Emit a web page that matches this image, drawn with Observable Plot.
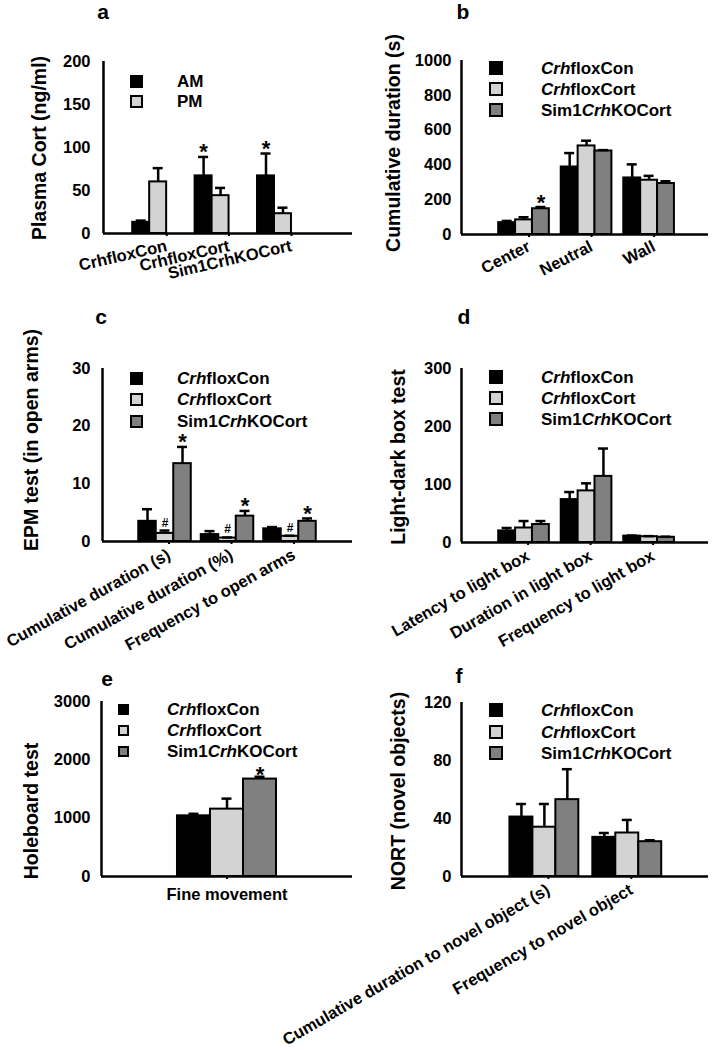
<!DOCTYPE html>
<html><head><meta charset="utf-8">
<script src="https://cdn.jsdelivr.net/npm/d3@7"></script>
<script src="https://cdn.jsdelivr.net/npm/@observablehq/plot@0.6"></script>
<style>
body{margin:0;background:#fff;}
#fig{position:relative;width:712px;height:1050px;font-family:Arial,"Liberation Sans",sans-serif;font-weight:bold;color:#000;overflow:hidden;}
.plt{position:absolute;}
.plt svg{overflow:visible;}
.plt g[aria-label="x-axis tick label"]{font-size:16.5px;}
.letter{position:absolute;font-size:21px;line-height:1;transform:translateX(-50%);}
.ytitle{position:absolute;font-size:19.5px;line-height:1;white-space:nowrap;transform:translate(-50%,-50%) rotate(-90deg);}
.sw{position:absolute;box-sizing:border-box;border:2px solid #000;}
.lt{position:absolute;font-size:17px;line-height:1;white-space:nowrap;transform:translateY(-50%);}
</style>
</head><body>
<div id="fig"></div>
<script>
const FONT = 'Arial, "Liberation Sans", sans-serif';

// ---------- data ----------
const groups = ["CrhfloxCon", "CrhfloxCort", "Sim1CrhKOCort"];
const groupColors = ["#000000", "#d3d3d3", "#808080"];

// a
const catsA = ["CrhfloxCon", "CrhfloxCort", "Sim1CrhKOCort"];
const seriesA = ["AM", "PM"];
const colorsA = ["#000000", "#d3d3d3"];
const meanA = [[13, 67, 67], [60, 44, 23]];
const errA = [[2, 22, 26], [16, 9, 7]];
const sigA = [["", "*", "*"], ["", "", ""]];
const ticksA = [0, 50, 100, 150, 200];

// b
const catsB = ["Center", "Neutral", "Wall"];
const meanB = [[68, 388, 325], [84, 509, 312], [148, 480, 293]];
const errB = [[10, 80, 78], [15, 30, 25], [10, 5, 13]];
const sigB = [["", "", ""], ["", "", ""], ["*", "", ""]];
const ticksB = [0, 200, 400, 600, 800, 1000];

// c
const catsC = ["Cumulative duration (s)", "Cumulative duration (%)", "Frequency to open arms"];
const meanC = [[3.5, 1.2, 2.2], [1.4, 0.6, 0.9], [13.5, 4.4, 3.5]];
const errC = [[2.1, 0.6, 0.3], [0.5, 0.1, 0.1], [2.9, 0.9, 0.5]];
const sigC = [["", "", ""], ["#", "#", "#"], ["*", "*", "*"]];
const ticksC = [0, 10, 20, 30];

// d
const catsD = ["Latency to light box", "Duration in light box", "Frequency to light box"];
const meanD = [[20, 74, 11], [25, 89, 10], [31, 114, 9]];
const errD = [[5, 13, 1], [12, 13, 1], [6, 48, 1]];
const ticksD = [0, 100, 200, 300];

// e
const catsE = ["Fine movement"];
const meanE = [[1040], [1155], [1670]];
const errE = [[35], [180], [40]];
const sigE = [[""], [""], ["*"]];
const ticksE = [0, 1000, 2000, 3000];

// f
const catsF = ["Cumulative duration to novel object (s)", "Frequency to novel object"];
const meanF = [[41, 27], [34, 30], [53, 24]];
const errF = [[9, 3], [16, 9], [21, 1]];
const ticksF = [0, 40, 80, 120];

// ---------- drawing ----------
const fig = document.getElementById("fig");

function panel(cfg) {
  const n = cfg.series.length;
  const rows = [];
  cfg.cats.forEach((c, i) => {
    cfg.series.forEach((s, j) => {
      const x1 = i + (j - n / 2) * cfg.barW;
      rows.push({i, j, series: s, x1, x2: x1 + cfg.barW, cx: x1 + cfg.barW / 2,
        v: cfg.means[j][i], top: cfg.means[j][i] + cfg.errs[j][i],
        sig: cfg.sig ? cfg.sig[j][i] : ""});
    });
  });
  const svgLeft = cfg.svgLeft;
  const svgRight = cfg.left + 356;
  const svgTop = cfg.yTop - 20;
  const svgH = cfg.yBot - svgTop + cfg.mb;
  const pxPerUnit = (cfg.axisR - cfg.axisL) / (cfg.xDomain[1] - cfg.xDomain[0]);
  const cap = 5 / pxPerUnit;
  const chart = Plot.plot({
    width: svgRight - svgLeft, height: svgH,
    marginLeft: cfg.axisL - svgLeft, marginRight: svgRight - cfg.axisR,
    marginTop: cfg.yTop - svgTop, marginBottom: cfg.mb,
    style: {fontFamily: FONT, fontWeight: "bold", fontSize: "16.5px", overflow: "visible", background: "transparent", color: "#000"},
    x: {domain: cfg.xDomain},
    y: {domain: [cfg.yTicks[0], cfg.yTicks[cfg.yTicks.length - 1]]},
    color: {domain: cfg.series, range: cfg.colors},
    marks: [
      Plot.rect(rows, {x1: "x1", x2: "x2", y1: () => 0, y2: "v", fill: "series", stroke: "#000", strokeWidth: 2}),
      Plot.ruleX(rows, {x: "cx", y1: "v", y2: "top", strokeWidth: 2.5}),
      Plot.ruleY(rows.filter(d => d.top > d.v), {y: "top", x1: d => d.cx - cap, x2: d => d.cx + cap, strokeWidth: 2.5}),
      Plot.text(rows.filter(d => d.sig === "*"), {x: "cx", y: "top", text: "sig", fontSize: 22, lineAnchor: "bottom", dy: cfg.starDy}),
      Plot.text(rows.filter(d => d.sig === "#"), {x: "cx", y: "top", text: "sig", fontSize: 12, lineAnchor: "bottom", dy: -4}),
      Plot.ruleY([0], {strokeWidth: 2.5}),
      Plot.ruleX([cfg.xDomain[0]], {strokeWidth: 2.5}),
      Plot.axisY({ticks: cfg.yTicks, tickFormat: d => String(d), tickSize: 0, tickPadding: cfg.tickPad, label: null}),
      Plot.axisX({ticks: d3.range(cfg.cats.length), tickFormat: i => cfg.cats[i], tickRotate: cfg.rotate,
        tickSize: 3, tickPadding: cfg.xPad, strokeWidth: 2, dx: cfg.dx, label: null})
    ]
  });
  const wrap = document.createElement("div");
  wrap.className = "plt";
  wrap.style.left = svgLeft + "px";
  wrap.style.top = svgTop + "px";
  wrap.appendChild(chart);
  fig.appendChild(wrap);

  // panel letter
  const L = document.createElement("div");
  L.className = "letter";
  L.textContent = cfg.letter[0];
  L.style.left = cfg.letter[1] + "px";
  L.style.top = (cfg.letter[2] - 17) + "px";
  fig.appendChild(L);

  // y title
  const T = document.createElement("div");
  T.className = "ytitle";
  T.textContent = cfg.yTitle[0];
  T.style.left = cfg.yTitle[1] + "px";
  T.style.top = cfg.yTitle[2] + "px";
  fig.appendChild(T);

  // legend
  cfg.series.forEach((s, j) => {
    const cy = cfg.legend.cy[j];
    const sw = document.createElement("div");
    sw.className = "sw";
    sw.style.left = cfg.legend.sx + "px";
    sw.style.top = (cy - cfg.legend.s / 2) + "px";
    sw.style.width = cfg.legend.s + "px";
    sw.style.height = cfg.legend.s + "px";
    sw.style.background = cfg.colors[j];
    fig.appendChild(sw);
    const t = document.createElement("div");
    t.className = "lt";
    t.style.left = cfg.legend.tx + "px";
    t.style.top = cy + "px";
    t.innerHTML = s.replace("Crh", "<i>Crh</i>");
    fig.appendChild(t);
  });
}

panel({left: 0, svgLeft: 0, mb: 60, axisL: 103, axisR: 352, yTop: 61, yBot: 233, xDomain: [-0.74, 3.25], barW: 0.272,
  cats: catsA, series: seriesA, colors: colorsA, means: meanA, errs: errA, sig: sigA, yTicks: ticksA,
  tickPad: 13, rotate: -13, dx: 17, xPad: 9, starDy: 2.5,
  letter: ["a", 103, 18], yTitle: ["Plasma Cort (ng/ml)", 40, 148],
  legend: {sx: 130, s: 13, tx: 177, cy: [81, 101]}});

panel({left: 356, svgLeft: 356, mb: 60, axisL: 461, axisR: 708, yTop: 60, yBot: 234, xDomain: [-1.0, 2.95], barW: 0.27,
  cats: catsB, series: groups, colors: groupColors, means: meanB, errs: errB, sig: sigB, yTicks: ticksB,
  tickPad: 10, rotate: -27, dx: 5, xPad: 8, starDy: 2.5,
  letter: ["b", 463, 18], yTitle: ["Cumulative duration (s)", 394, 143],
  legend: {sx: 489, s: 14, tx: 541, cy: [68, 89, 110]}});

panel({left: 0, svgLeft: 0, mb: 125, axisL: 102, axisR: 352, yTop: 368, yBot: 541, xDomain: [-1, 3.0], barW: 0.28,
  cats: catsC, series: groups, colors: groupColors, means: meanC, errs: errC, sig: sigC, yTicks: ticksC,
  tickPad: 12, rotate: -29, dx: 4, xPad: 9, starDy: 2.5,
  letter: ["c", 101, 323], yTitle: ["EPM test (in open arms)", 32, 440],
  legend: {sx: 130, s: 13, tx: 177, cy: [378, 399, 421]}});

panel({left: 356, svgLeft: 356, mb: 115, axisL: 461, axisR: 708, yTop: 368, yBot: 542, xDomain: [-1, 2.95], barW: 0.27,
  cats: catsD, series: groups, colors: groupColors, means: meanD, errs: errD, sig: null, yTicks: ticksD,
  tickPad: 10, rotate: -30, dx: 4, xPad: 9, starDy: 2.5,
  letter: ["d", 464, 323], yTitle: ["Light-dark box test", 399, 457],
  legend: {sx: 489, s: 14, tx: 541, cy: [377, 398, 419]}});

panel({left: 0, svgLeft: 0, mb: 40, axisL: 101, axisR: 352, yTop: 701, yBot: 876, xDomain: [-1, 1], barW: 0.263,
  cats: catsE, series: groups, colors: groupColors, means: meanE, errs: errE, sig: sigE, yTicks: ticksE,
  tickPad: 11, rotate: 0, dx: 0, xPad: 9, starDy: 5,
  letter: ["e", 107, 685], yTitle: ["Holeboard test", 32, 811],
  legend: {sx: 118, s: 11, tx: 167, cy: [709, 730, 751]}});

panel({left: 356, svgLeft: 270, mb: 155, axisL: 461, axisR: 708, yTop: 702, yBot: 876, xDomain: [-1, 1.98], barW: 0.277,
  cats: catsF, series: groups, colors: groupColors, means: meanF, errs: errF, sig: null, yTicks: ticksF,
  tickPad: 10, rotate: -30, dx: 4, xPad: 9, starDy: 2.5,
  letter: ["f", 459, 682], yTitle: ["NORT (novel objects)", 399, 791],
  legend: {sx: 489, s: 14, tx: 541, cy: [710, 732, 753]}});
</script>
</body></html>
